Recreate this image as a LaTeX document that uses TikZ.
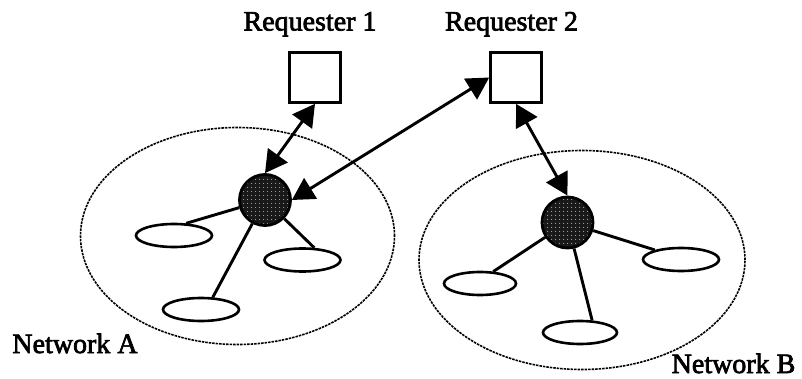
\documentclass[tikz,border=0pt]{standalone}
\usepackage{fontspec}
\newfontfamily\lblfont{Liberation Serif}[FakeBold=2.5]
\usetikzlibrary{arrows.meta,shapes.geometric,patterns.meta}
\begin{document}
\begin{tikzpicture}[x=1pt,y=-1pt,
  reqbox/.style={draw, line width=2.6pt, minimum width=51pt, minimum height=50pt, inner sep=0pt},
  hub/.style={circle, draw, line width=2.8pt, minimum size=51pt, inner sep=0pt,
    preaction={fill=black!90}, pattern={Dots[distance=4pt,radius=0.6pt]}, pattern color=white},
  leaf/.style={ellipse, draw, line width=2.6pt, minimum height=23pt, inner sep=0pt},
  cloud/.style={ellipse, draw=black, line width=1.6pt, dash pattern=on 2.5pt off 1pt, inner sep=0pt},
  lbl/.style={font=\lblfont\fontsize{28}{32}\selectfont, anchor=base, inner sep=0pt},
  link/.style={line width=2.9pt},
  arr/.style={line width=2.9pt, {Triangle[length=22pt,width=24pt]}-{Triangle[length=22pt,width=24pt]}}
]
\path[use as bounding box] (0,0) rectangle (802,379);

% network clouds
\node[cloud, minimum width=314pt, minimum height=217pt] (netA) at (237.5,236) {};
\node[cloud, minimum width=326pt, minimum height=219pt] (netB) at (582,260) {};

% requesters
\node[reqbox] (box1) at (315,77.5) {};
\node[reqbox] (box2) at (516,77.5) {};

% hubs
\node[hub] (hubA) at (265,200) {};
\node[hub] (hubB) at (567.5,222.5) {};

% leaves network A
\node[leaf, minimum width=76pt] (eA1) at (174,235.5) {};
\node[leaf, minimum width=76pt] (eA2) at (302.5,260) {};
\node[leaf, minimum width=76pt] (eA3) at (201,309.5) {};
% leaves network B
\node[leaf, minimum width=72pt] (eB1) at (480,283.5) {};
\node[leaf, minimum width=74pt] (eB2) at (580,332.5) {};
\node[leaf, minimum width=76pt] (eB3) at (681,259.5) {};

% links
\draw[link] (hubA) -- (eA1.45);
\draw[link] (hubA) -- (eA2.46);
\draw[link] (hubA) -- (eA3.46);
\draw[link] (hubB) -- (eB1.42);
\draw[link] (hubB) -- (eB2.45);
\draw[link] (hubB) -- (eB3.160);

% arrows
\draw[arr] (box1.south) -- (hubA.north);
\draw[arr] (box2.west) -- (hubA.east);
\draw[arr] (box2.south) -- (hubB.north);

% labels
\node[lbl] (r1) at (310,30.5) {Requester 1};
\node[lbl] (r2) at (511.5,30.5) {Requester 2};
\node[lbl] (na) at (75,353) {Network A};
\node[lbl] (nb) at (733.5,373) {Network B};
\end{tikzpicture}
\end{document}
